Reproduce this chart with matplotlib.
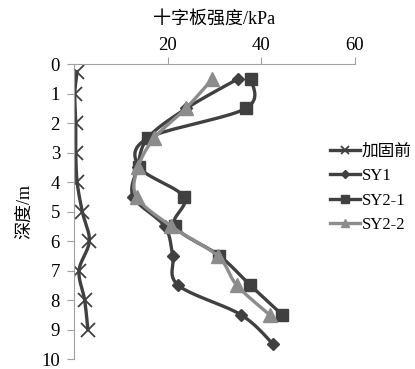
import numpy as np
import matplotlib.pyplot as plt
from matplotlib.lines import Line2D

plt.rcParams['font.family'] = ['Liberation Serif', 'Noto Sans CJK SC']

# depth (m) and vane shear strength (kPa) for each series
depth_before = [0.25, 1, 2, 3, 4, 5, 6, 7, 8, 9]
before = [0.7, 0.2, 0.4, 0.4, 0.7, 1.8, 3.3, 1.1, 2.3, 3.0]

depth_sy1 = [0.5, 1.5, 2.5, 3.5, 4.5, 5.5, 6.5, 7.5, 8.5, 9.5]
sy1 = [35.0, 24.0, 15.8, 13.6, 12.7, 19.4, 21.1, 22.3, 35.7, 42.6]

depth_sy21 = [0.5, 1.5, 2.5, 3.5, 4.5, 5.5, 6.5, 7.5, 8.5]
sy21 = [37.9, 36.7, 15.9, 14.0, 23.5, 21.6, 31.1, 37.7, 44.5]

depth_sy22 = [0.5, 1.5, 2.5, 3.5, 4.5, 5.5, 6.5, 7.5, 8.5]
sy22 = [29.6, 23.9, 17.2, 13.7, 13.4, 20.8, 30.7, 34.8, 41.8]

labels = ['加固前', 'SY1', 'SY2-1', 'SY2-2']
x_ticks = [20, 40, 60]
y_ticks = list(range(0, 11))


def smooth(x, y, n=20):
    # Catmull-Rom curve through the points, like a spreadsheet "smoothed line"
    p = np.column_stack([x, y]).astype(float)
    p = np.vstack([p[0], p, p[-1]])
    out = []
    t = np.linspace(0, 1, n, endpoint=False)
    for i in range(1, len(p) - 2):
        p0, p1, p2, p3 = p[i - 1], p[i], p[i + 1], p[i + 2]
        tt = t[:, None]
        seg = 0.5 * ((2 * p1) + (-p0 + p2) * tt
                     + (2 * p0 - 5 * p1 + 4 * p2 - p3) * tt ** 2
                     + (-p0 + 3 * p1 - 3 * p2 + p3) * tt ** 3)
        out.append(seg)
    out.append(p[-2][None, :])
    out = np.vstack(out)
    return out[:, 0], out[:, 1]


fig = plt.figure(figsize=(4.15, 3.69), dpi=100)
ax = fig.add_axes([0.178, 0.027, 0.677, 0.799])

dark = '#404040'
light = '#8c8c8c'
styles = [
    (before, depth_before, dark, 'x', 10, 1.3),
    (sy1, depth_sy1, dark, 'D', 6.5, 1),
    (sy21, depth_sy21, dark, 's', 9, 1),
    (sy22, depth_sy22, light, '^', 10, 1),
]

handles = []
for (xs, ys, c, m, ms, mew), lab in zip(styles, labels):
    sx, sy = smooth(xs, ys)
    ax.plot(sx, sy, color=c, lw=2.4, solid_capstyle='round')
    ax.plot(xs, ys, ls='none', marker=m, ms=ms, color=c, mec=c, mew=mew)
    handles.append(Line2D([], [], color=c, lw=2.4, marker=m, ms=ms * 0.6, mec=c,
                          mew=mew, label=lab))

ax.set_xlim(0, 60)
ax.set_ylim(10, 0)
ax.xaxis.tick_top()
ax.xaxis.set_label_position('top')
ax.set_xticks(x_ticks)
ax.set_yticks(y_ticks)
ax.tick_params(axis='x', direction='out', length=5, color='#a0a0a0', labelsize=13.5, pad=2)
ax.tick_params(axis='y', direction='out', length=5, color='#a0a0a0', labelsize=13.5, pad=5)
for s in ['right', 'bottom']:
    ax.spines[s].set_visible(False)
for s in ['left', 'top']:
    ax.spines[s].set_color('#a0a0a0')
ax.set_xlabel('十字板强度/kPa', fontsize=13, labelpad=10)
ax.set_ylabel('深度/m', fontsize=13, labelpad=6)

fig.legend(handles=handles, loc='upper left', bbox_to_anchor=(0.795, 0.61),
           frameon=False, fontsize=12, handlelength=1.8, handletextpad=0.1,
           labelspacing=0.5, borderpad=0, borderaxespad=0)

fig.savefig('out.png', dpi=100)
